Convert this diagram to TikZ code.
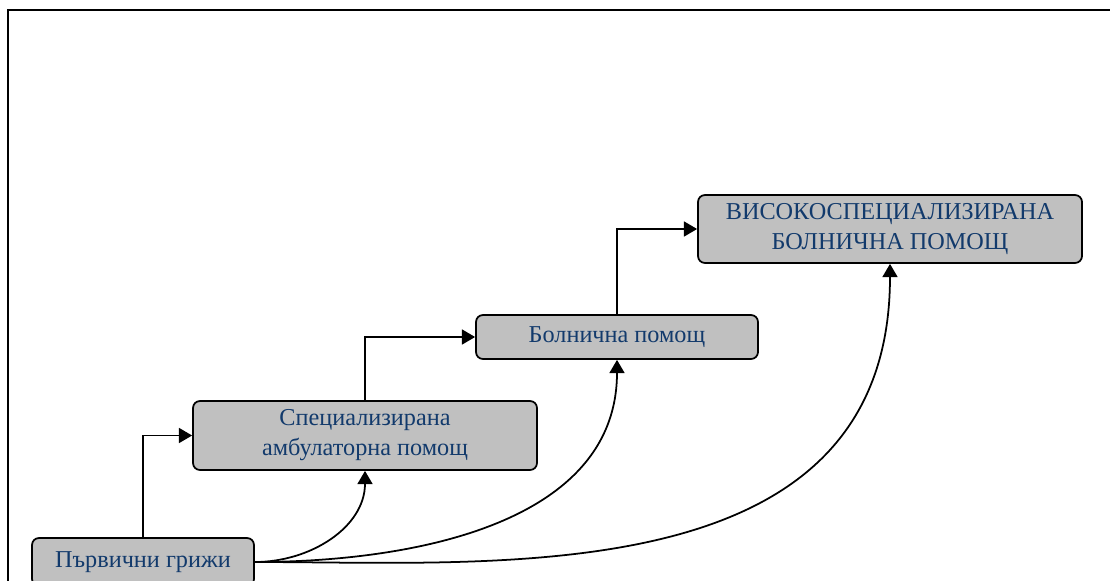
\documentclass[tikz,border=0pt]{standalone}
\usepackage{fontspec}
\setmainfont{Liberation Serif}
\usetikzlibrary{arrows.meta}
\definecolor{boxfill}{RGB}{192,192,192}
\definecolor{boxtext}{RGB}{18,58,108}

\begin{document}
\begin{tikzpicture}[every node/.style={draw,line width=1pt,rounded corners=4pt,fill=boxfill,
    text=boxtext,align=center,inner sep=2pt,font=\fontsize{13.8}{17}\selectfont},
  link/.style={line width=1pt,-{Triangle[length=7.5pt,width=8.5pt]}}]
  \useasboundingbox (0,0) rectangle (22.2,-11.6);
  \draw[line width=1.3pt] (0.16,-12.5) -- (0.16,-0.2) -- (23,-0.2);
  \path (2.86,-11.24) node[minimum width=4.44cm,minimum height=0.96cm] (p0) {Първични грижи}
  (7.3,-8.71) node[minimum width=6.88cm,minimum height=1.38cm] (p1) {Специализирана\\амбулаторна помощ}
  (12.34,-6.74) node[minimum width=5.64cm,minimum height=0.88cm] (p2) {Болнична помощ}
  (17.8,-4.58) node[minimum width=7.68cm,minimum height=1.36cm] (p3) {ВИСОКОСПЕЦИАЛИЗИРАНА\\БОЛНИЧНА ПОМОЩ};
  \draw[link] (p0.north) |- (p1.west);
  \draw[link] (p1.north) |- (p2.west);
  \draw[link] (p2.north) |- (p3.west);
  \draw[link] (p0.east) to[out=0,in=-90] (p1.south);
  \draw[link] (p0.east) to[out=0,in=-90] (p2.south);
  \draw[link] (p0.east) to[out=0,in=-90,out looseness=0.9,in looseness=1.2] (p3.south);
  \end{tikzpicture}
\end{document}
